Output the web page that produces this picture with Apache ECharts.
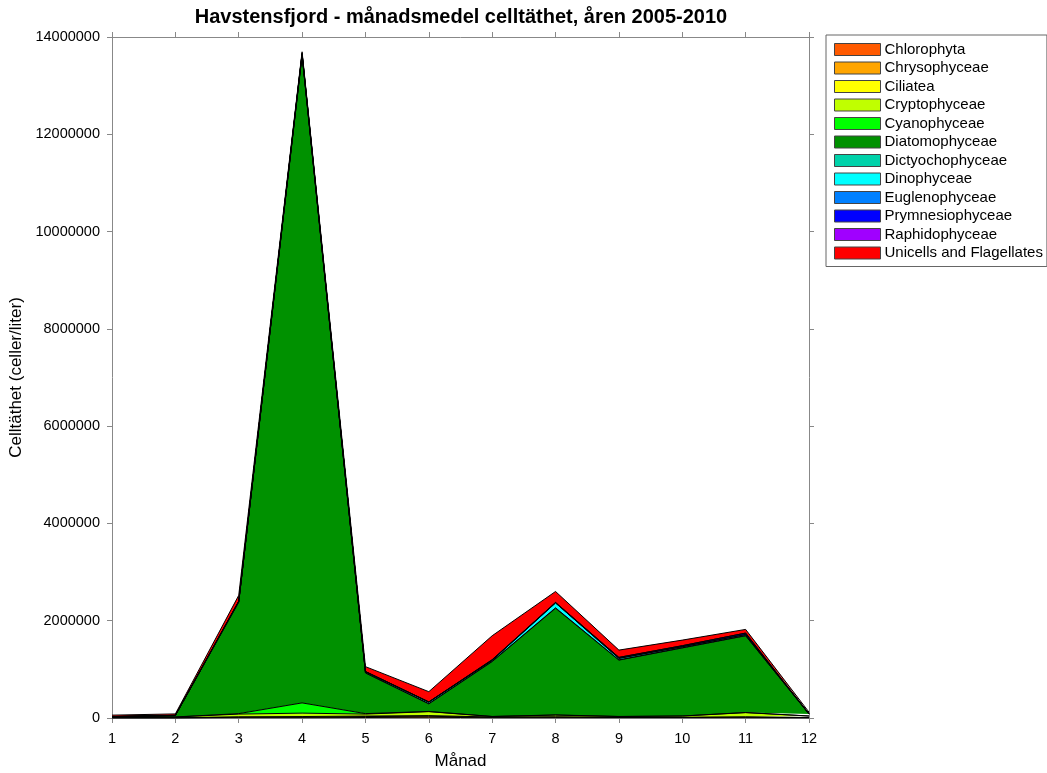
<!DOCTYPE html>
<html>
<head>
<meta charset="utf-8">
<script src="https://cdn.jsdelivr.net/npm/echarts@6/dist/echarts.min.js"></script>
<style>html,body{margin:0;padding:0;background:#fff}#c{width:1047px;height:773px}</style>
</head>
<body>
<div id="c"></div>
<script>
const months = ['1','2','3','4','5','6','7','8','9','10','11','12'];
const seriesNames = ['Chlorophyta','Chrysophyceae','Ciliatea','Cryptophyceae','Cyanophyceae','Diatomophyceae','Dictyochophyceae','Dinophyceae','Euglenophyceae','Prymnesiophyceae','Raphidophyceae','Unicells and Flagellates'];
const colors = ['#FF5A00','#FFA500','#FFFF00','#C0FF00','#00FF00','#009100','#00D2AA','#00FFFF','#0080FF','#0000FF','#A000FF','#FF0000'];

const chlorophyta      = [0,0,5000,5000,10000,15000,5000,5000,5000,5000,5000,0];
const chrysophyceae    = [0,0,10000,10000,20000,20000,10000,10000,5000,5000,10000,5000];
const ciliatea         = [5000,5000,10000,15000,10000,15000,5000,10000,5000,5000,10000,5000];
const cryptophyceae    = [10000,15000,55000,70000,40000,80000,10000,35000,15000,25000,85000,30000];
const cyanophyceae     = [2000,2000,10000,210000,10000,5000,2000,3000,2000,2000,3000,2000];
const diatomophyceae   = [10000,30000,2290000,13310000,835000,155000,1128000,2192000,1158000,1398000,1577000,38000];
const dictyochophyceae = [0,0,5000,10000,5000,5000,5000,10000,5000,5000,5000,0];
const dinophyceae      = [2000,2000,10000,20000,20000,30000,20000,100000,30000,20000,20000,5000];
const euglenophyceae   = [0,0,1000,1000,1000,1000,1000,1000,1000,1000,1000,0];
const prymnesiophyceae = [0,0,5000,10000,5000,5000,10000,10000,20000,20000,30000,2000];
const raphidophyceae   = [0,0,0,5000,0,0,5000,0,0,0,0,0];
const unicells         = [30000,30000,120000,30000,100000,210000,490000,225000,150000,115000,75000,33000];

const seriesData = [chlorophyta,chrysophyceae,ciliatea,cryptophyceae,cyanophyceae,diatomophyceae,dictyochophyceae,dinophyceae,euglenophyceae,prymnesiophyceae,raphidophyceae,unicells];

const font = 'Arial, "Liberation Sans", sans-serif';
const axisLineStyle = {color:'#888', width:1};

const chart = echarts.init(document.getElementById('c'));
chart.setOption({
  animation:false,
  backgroundColor:'#fff',
  title:{
    text:'Havstensfjord - månadsmedel celltäthet, åren 2005-2010',
    left:456, top:2, textAlign:'center',
    textStyle:{fontFamily:font,fontSize:20,fontWeight:'bold',color:'#000'}
  },
  legend:{
    orient:'vertical', left:826, top:35,
    padding:[7,4,6,8],
    itemWidth:46, itemHeight:12, itemGap:3.5,
    borderColor:'#666', borderWidth:1,
    icon:'rect',
    itemStyle:{borderColor:'#444', borderWidth:1},
    textStyle:{fontFamily:font,fontSize:15,color:'#000',padding:[0,0,0,-1]},
    data:seriesNames
  },
  grid:{left:112,right:238,top:37,bottom:55,containLabel:false,outerBoundsMode:'none'},
  xAxis:[{
    type:'category', data:months, boundaryGap:false,
    name:'Månad', nameLocation:'middle', nameGap:35,
    nameTextStyle:{fontFamily:font,fontSize:17,color:'#000'},
    axisLine:{onZero:false,lineStyle:axisLineStyle},
    axisTick:{show:true,inside:false,length:5,lineStyle:axisLineStyle},
    axisLabel:{fontFamily:font,fontSize:14.5,color:'#000',margin:13},
    splitLine:{show:false}
  },{
    type:'category', data:months, boundaryGap:false, position:'top',
    axisLine:{show:true,onZero:false,lineStyle:axisLineStyle},
    axisTick:{show:true,inside:false,length:5,lineStyle:axisLineStyle},
    axisLabel:{show:false}, splitLine:{show:false}
  }],
  yAxis:[{
    type:'value', min:0, max:14000000, interval:2000000,
    name:'Celltäthet (celler/liter)', nameLocation:'middle', nameGap:84,
    nameTextStyle:{fontFamily:font,fontSize:17,color:'#000'},
    axisLine:{show:true,onZero:false,lineStyle:axisLineStyle},
    axisTick:{show:true,inside:false,length:5,lineStyle:axisLineStyle},
    axisLabel:{fontFamily:font,fontSize:14.5,color:'#000',margin:12,formatter:v=>String(v)},
    splitLine:{show:false}
  },{
    type:'value', min:0, max:14000000, interval:2000000, position:'right',
    axisLine:{show:true,onZero:false,lineStyle:axisLineStyle},
    axisTick:{show:true,inside:false,length:5,lineStyle:axisLineStyle},
    axisLabel:{show:false}, splitLine:{show:false}
  }],
  series: seriesNames.map((n,i)=>({
    name:n, type:'line', stack:'total', data:seriesData[i],
    symbol:'none', smooth:false,
    itemStyle:{color:colors[i]},
    lineStyle:{color:'#000', width:1},
    areaStyle:{color:colors[i], opacity:1}
  }))
});
</script>
</body>
</html>
